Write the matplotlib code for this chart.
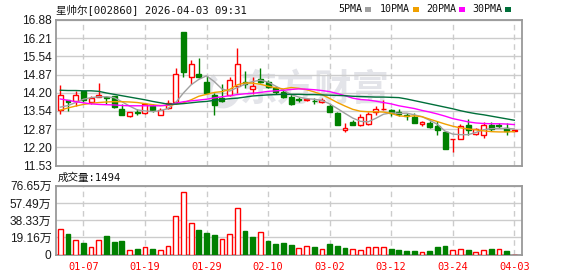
import matplotlib
matplotlib.use("Agg")
import matplotlib.pyplot as plt
from matplotlib.patches import Arc
import numpy as np

# ---------------- data ----------------
title_name = "星帅尔[002860]"
title_time = "2026-04-03 09:31"

dates = ["12-31", "01-05", "01-06", "01-07", "01-08", "01-09", "01-12", "01-13", "01-14", "01-15",
         "01-16", "01-19", "01-20", "01-21", "01-22", "01-23", "01-26", "01-27", "01-28", "01-29",
         "01-30", "02-02", "02-03", "02-04", "02-05", "02-06", "02-09", "02-10", "02-11", "02-12",
         "02-13", "02-24", "02-25", "02-26", "02-27", "03-02", "03-03", "03-04", "03-05", "03-06",
         "03-09", "03-10", "03-11", "03-12", "03-13", "03-16", "03-17", "03-18", "03-19", "03-20",
         "03-23", "03-24", "03-25", "03-26", "03-27", "03-30", "03-31", "04-01", "04-02", "04-03"]
tick_dates = ["01-07", "01-19", "01-29", "02-10", "03-02", "03-12", "03-24", "04-03"]

opens = [13.57, 13.93, 13.90, 14.27, 13.88, 14.05, 14.04, 14.08, 13.63, 13.36,
         13.51, 13.46, 13.73, 13.41, 13.66, 13.87, 16.44, 14.77, 14.89, 14.62,
         14.11, 14.00, 14.13, 14.45, 14.62, 14.36, 14.70, 14.62, 14.40, 14.25,
         14.05, 13.98, 13.94, 13.91, 13.88, 13.73, 13.47, 12.85, 13.13, 13.04,
         13.07, 13.50, 13.61, 13.56, 13.51, 13.39, 13.31, 13.07, 13.09, 12.97,
         12.77, 12.50, 12.51, 13.01, 12.69, 12.65, 13.01, 13.02, 12.91, 12.82]
closes = [14.11, 13.88, 14.11, 13.93, 14.03, 14.11, 14.02, 13.70, 13.41, 13.51,
          13.47, 13.78, 13.56, 13.59, 13.83, 14.91, 14.97, 15.28, 14.77, 14.20,
          13.76, 13.90, 14.69, 15.26, 14.54, 14.46, 14.62, 14.43, 14.22, 14.06,
          13.78, 13.96, 13.97, 13.90, 13.95, 13.51, 13.04, 12.92, 13.03, 13.31,
          13.44, 13.62, 13.63, 13.46, 13.44, 13.36, 13.09, 13.14, 12.95, 12.85,
          12.16, 12.52, 12.98, 12.85, 12.88, 13.04, 12.87, 13.00, 12.79, 12.83]
highs = [14.48, 13.95, 14.27, 14.28, 14.09, 14.56, 14.08, 14.10, 13.78, 13.51,
         13.60, 13.81, 13.78, 13.66, 13.95, 15.11, 16.44, 15.41, 15.48, 14.83,
         14.21, 14.54, 14.80, 15.87, 15.01, 14.80, 15.11, 14.67, 14.45, 14.33,
         14.15, 14.05, 14.00, 14.00, 14.00, 13.81, 13.51, 13.09, 13.19, 13.44,
         13.51, 13.74, 13.93, 13.63, 13.61, 13.46, 13.46, 13.17, 13.17, 13.17,
         12.79, 12.52, 13.07, 13.25, 12.92, 13.14, 13.12, 13.09, 13.09, 12.84]
lows = [13.44, 13.54, 13.72, 13.88, 13.81, 14.05, 13.78, 13.66, 13.39, 13.33,
        13.39, 13.44, 13.51, 13.39, 13.63, 13.78, 14.77, 14.52, 14.74, 14.20,
        13.39, 13.88, 14.09, 14.20, 14.40, 14.15, 14.58, 14.40, 14.18, 14.03,
        13.75, 13.88, 13.91, 13.78, 13.83, 13.49, 13.02, 12.77, 13.01, 12.98,
        13.02, 13.41, 13.56, 13.34, 13.34, 13.22, 13.09, 12.99, 12.90, 12.67,
        12.13, 12.03, 12.51, 12.67, 12.65, 12.55, 12.80, 12.90, 12.67, 12.81]

# volume in 万 (10k shares)
volumes = [28.9, 22.7, 16.8, 12.8, 9.1, 16.8, 20.5, 13.9, 15.0, 4.8,
           6.2, 9.1, 6.2, 4.8, 10.2, 43.1, 69.5, 35.5, 27.1, 23.8,
           21.6, 17.9, 23.4, 51.9, 26.0, 19.4, 24.9, 15.0, 11.7, 12.8,
           10.6, 6.9, 9.5, 8.4, 5.8, 11.7, 9.5, 7.3, 5.8, 4.8,
           8.0, 8.0, 8.0, 5.8, 4.8, 4.0, 4.0, 2.6, 4.0, 8.0,
           10.2, 4.8, 6.6, 4.8, 2.6, 4.8, 5.8, 5.8, 4.0, 0.1494]

ma5 = [13.68, 13.74, 13.85, 13.97, 14.03, 14.06, 14.06, 14.03, 13.88, 13.72,
       13.58, 13.54, 13.52, 13.55, 13.63, 13.85, 14.20, 14.50, 14.70, 14.83,
       14.62, 14.35, 14.27, 14.40, 14.52, 14.62, 14.67, 14.60, 14.45, 14.30,
       14.14, 14.05, 13.99, 13.97, 13.93, 13.80, 13.63, 13.45, 13.28, 13.16,
       13.14, 13.27, 13.42, 13.47, 13.45, 13.46, 13.40, 13.33, 13.20, 13.05,
       12.80, 12.69, 12.67, 12.67, 12.75, 12.85, 12.89, 12.90, 12.90, 12.88]
ma10 = [13.57, 13.65, 13.72, 13.78, 13.82, 13.85, 13.87, 13.88, 13.88, 13.87,
        13.85, 13.81, 13.77, 13.74, 13.74, 13.79, 13.84, 13.95, 14.08, 14.15,
        14.22, 14.25, 14.33, 14.50, 14.57, 14.56, 14.52, 14.45, 14.39, 14.35,
        14.40, 14.37, 14.32, 14.24, 14.14, 14.00, 13.85, 13.72, 13.60, 13.53,
        13.51, 13.51, 13.50, 13.45, 13.36, 13.34, 13.36, 13.33, 13.24, 13.15,
        13.06, 12.98, 12.92, 12.88, 12.85, 12.81, 12.78, 12.77, 12.77, 12.78]
ma20 = [13.98, 13.93, 13.88, 13.84, 13.80, 13.78, 13.77, 13.76, 13.74, 13.73,
        13.73, 13.73, 13.73, 13.73, 13.76, 13.82, 13.88, 13.91, 13.94, 13.97,
        14.02, 14.06, 14.10, 14.14, 14.17, 14.19, 14.22, 14.26, 14.28, 14.30,
        14.33, 14.35, 14.34, 14.32, 14.29, 14.25, 14.18, 14.10, 14.01, 13.96,
        13.94, 13.90, 13.85, 13.80, 13.73, 13.68, 13.63, 13.56, 13.50, 13.43,
        13.35, 13.26, 13.20, 13.14, 13.10, 13.08, 13.07, 13.07, 13.06, 13.04]
ma30 = [14.30, 14.29, 14.29, 14.28, 14.28, 14.26, 14.20, 14.15, 14.10, 14.05,
        14.00, 13.95, 13.89, 13.84, 13.79, 13.79, 13.81, 13.84, 13.87, 13.89,
        13.93, 13.96, 13.99, 14.01, 14.05, 14.09, 14.11, 14.13, 14.14, 14.15,
        14.15, 14.15, 14.14, 14.14, 14.13, 14.12, 14.11, 14.10, 14.08, 14.07,
        14.06, 14.05, 14.05, 14.04, 14.03, 13.98, 13.92, 13.86, 13.80, 13.74,
        13.68, 13.62, 13.55, 13.49, 13.44, 13.40, 13.35, 13.30, 13.25, 13.20]

price_ticks = [11.53, 12.20, 12.87, 13.54, 14.20, 14.87, 15.54, 16.21, 16.88]
vol_ticks = [0, 19.16, 38.33, 57.49, 76.65]
vol_tick_labels = ["0", "19.16万", "38.33万", "57.49万", "76.65万"]
last_volume_label = "成交量:1494"
ma_names = ["5PMA", "10PMA", "20PMA", "30PMA"]
watermark = "东方财富"

# ---------------- style ----------------
RED = "#ff0000"
GREEN = "#008000"
MA_COLORS = ["#a0a0a0", "#f0a000", "#ff00ff", "#006f3a"]
GRID = "#cccccc"
SPINE = "#999999"
WM = "#e3e4e9"
TICKFONT = ["Liberation Sans", "Noto Sans CJK SC"]
MONO = ["DejaVu Sans Mono", "Noto Sans CJK SC"]

W, H = 578, 276
fig = plt.figure(figsize=(W / 100, H / 100), dpi=100)

def axrect(x0, y0, x1, y1):
    return [x0 / W, 1 - y1 / H, (x1 - x0) / W, (y1 - y0) / H]

axp = fig.add_axes(axrect(55.7, 20.0, 522.3, 165.7))
axv = fig.add_axes(axrect(55.7, 185.7, 522.3, 254.7))

n = len(closes)
x = np.arange(n)
xlim = (-0.6, n + 0.04)
tick_pos = [dates.index(d) for d in tick_dates]

# ---- price panel ----
for xi, o, c, h, l in zip(x, opens, closes, highs, lows):
    up = c >= o
    col = RED if up else GREEN
    lo_b, hi_b = min(o, c), max(o, c)
    axp.vlines(xi, l, h, color=col, linewidth=1.0, zorder=2)
    hgt = max(hi_b - lo_b, 0.004)
    axp.bar(xi, hgt, bottom=lo_b, width=0.64,
            facecolor="white" if up else GREEN, edgecolor=col,
            linewidth=1.0, zorder=3)

for vals, colr in zip([ma5, ma10, ma20, ma30], MA_COLORS):
    axp.plot(x, vals, color=colr, linewidth=1.0, zorder=4)

# watermark (logo ring + text)
axp.text(0.555, 0.52, watermark, transform=axp.transAxes, fontsize=27,
         family=["Noto Sans CJK SC"], fontweight="bold", color=WM,
         ha="center", va="center", zorder=0.5)
axp.add_patch(Arc(((223 - 55.7) / 466.6, 0.52), 28 / 466.6, 30 / 145.7,
                  theta1=100, theta2=300, transform=axp.transAxes,
                  color=WM, linewidth=5, zorder=0.5))

axp.set_xlim(*xlim)
axp.set_ylim(price_ticks[0], price_ticks[-1])
axp.set_yticks(price_ticks)
axp.set_yticklabels([f"{t:.2f}" for t in price_ticks])
axp.set_xticks(tick_pos)
axp.set_xticklabels([])
axp.grid(axis="y", color=GRID, linewidth=1.0, linestyle="-")
axp.grid(axis="x", color=GRID, linewidth=1.0, linestyle=(0, (4, 3)))
axp.set_axisbelow(True)

# ---- volume panel ----
for i, (xi, v) in enumerate(zip(x, volumes)):
    up = True if i == 0 else closes[i] >= closes[i - 1]
    axv.bar(xi, v, bottom=0, width=0.62,
            facecolor="white" if up else GREEN,
            edgecolor=RED if up else GREEN, linewidth=1.0, zorder=3)

axv.set_xlim(*xlim)
axv.set_ylim(0, vol_ticks[-1])
axv.set_yticks(vol_ticks)
axv.set_yticklabels(vol_tick_labels)
axv.set_xticks(tick_pos)
axv.set_xticklabels(tick_dates)
axv.grid(axis="y", color=GRID, linewidth=1.0, linestyle="-")
axv.grid(axis="x", color=GRID, linewidth=1.0, linestyle=(0, (4, 3)))
axv.set_axisbelow(True)

for ax in (axp, axv):
    for s in ax.spines.values():
        s.set_color(SPINE)
        s.set_linewidth(1.3)
    ax.tick_params(length=0, pad=3)
    for lab in ax.get_yticklabels():
        lab.set_family(TICKFONT)
        lab.set_fontsize(8.6)
        lab.set_color("#1a1a1a")
for lab in axv.get_xticklabels():
    lab.set_family(MONO)
    lab.set_fontsize(7.4)
    lab.set_color(RED)
axv.tick_params(axis="x", pad=5)

# ---- header texts ----
fig.text(56 / W, 1 - 10 / H, f"{title_name} {title_time}", family=MONO,
         fontsize=7.6, color="#111111", ha="left", va="center")
fig.text(58 / W, 1 - 178 / H, last_volume_label, family=MONO,
         fontsize=7.6, color="#111111", ha="left", va="center")

leg_x = [338, 380, 426, 472]
for lx, name, colr in zip(leg_x, ma_names, MA_COLORS):
    fig.text(lx / W, 1 - 9 / H, name, family=MONO, fontsize=7.2,
             color="#111111", ha="left", va="center")
    wpx = len(name) * 6.0
    fig.patches.append(plt.Rectangle(((lx + wpx + 3) / W, 1 - 11.5 / H), 5.5 / W, 4.5 / H,
                                     transform=fig.transFigure, facecolor=colr,
                                     edgecolor="none"))

fig.savefig("out.png", dpi=100)
